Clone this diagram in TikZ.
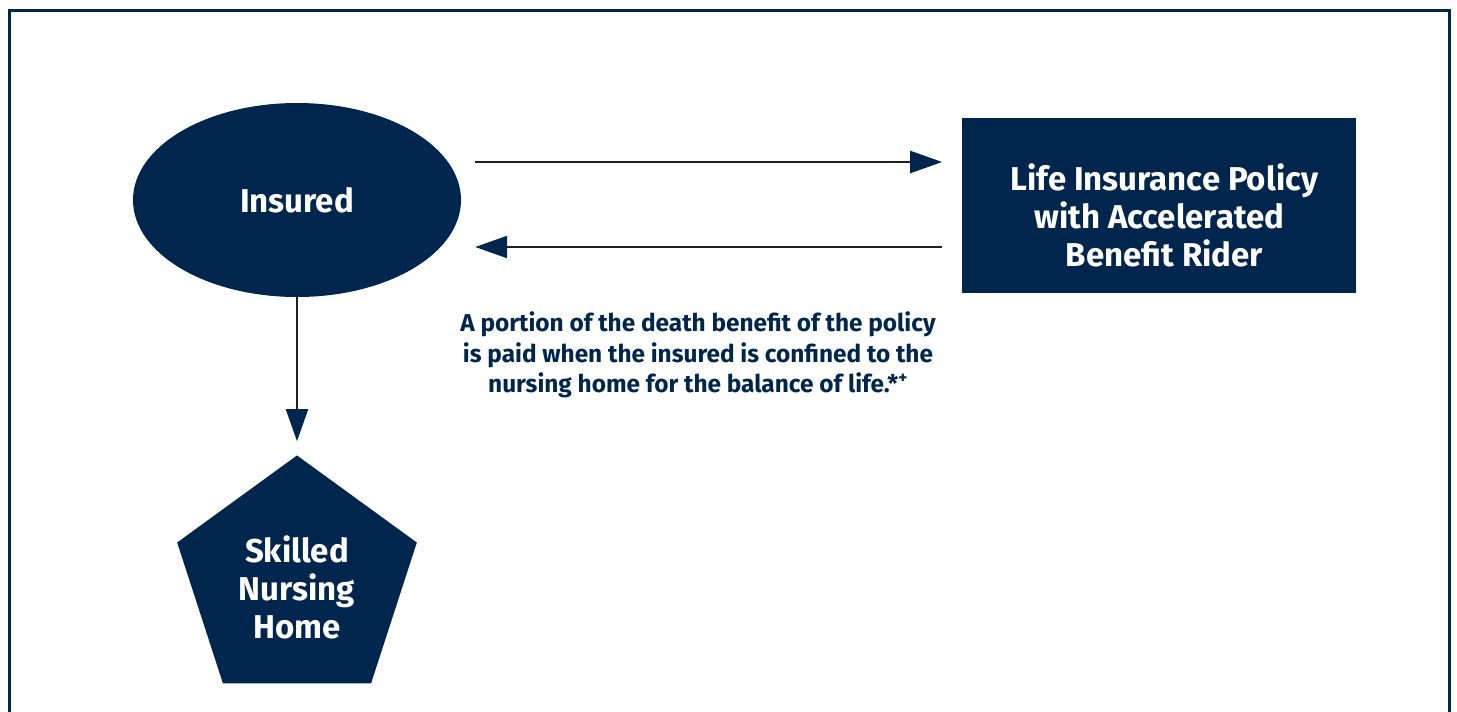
\documentclass[tikz,border=0pt]{standalone}
\usepackage{fontspec}
\setmainfont{Fira Sans}
\usepackage{tikz}
\usetikzlibrary{positioning, arrows.meta, calc, shapes.geometric}
\definecolor{navy}{RGB}{0,38,77}
\definecolor{inkline}{RGB}{35,31,32}
\tikzset{
  party/.style={
    fill=navy, draw=none, text=white, inner sep=0pt,
    font=\fontsize{33}{38}\selectfont\bfseries, align=center
  },
  flow/.style={draw=inkline, line width=2.2pt,
    -{Triangle[length=32pt, width=22pt, color=navy]}},
  note/.style={text=navy, align=center, font=\fontsize{24.4}{30.5}\selectfont\bfseries},
}

\begin{document}
\begin{tikzpicture}[x=1pt, y=-1pt, node distance=150pt]
  \useasboundingbox (0,0) rectangle (1457,712);
  \draw[navy, line width=3pt] (9,714) -- (9,10) -- (1449,10) -- (1449,714);

  \node[party, ellipse, minimum width=328pt, minimum height=194pt] (insured) at (297,200) {Insured};
  \node[party, rectangle, minimum width=394pt, minimum height=175pt,
        right=501pt of insured, yshift=-5.5pt] (policy) {\\[8pt]\hspace*{10pt}Life Insurance Policy\\with Accelerated\\\hspace*{10pt}Benefit Rider};
  \node[party, regular polygon, regular polygon sides=5, minimum size=252pt,
        below=158pt of insured] (snf) {\\[0pt]Skilled\\Nursing\\Home};
  \node[note] (benefit) at (698,355) {A portion of the death benefit of the policy\\is paid when the insured is confined to the\\nursing home for the balance of life.*\textsuperscript{+}};

  \coordinate (topin) at ($(insured.east)+(14,-38)$);
  \coordinate (botin) at ($(insured.east)+(14,47)$);
  \draw[flow, shorten >=20pt] (topin) -- (topin -| policy.west);
  \draw[flow, shorten <=20pt] (botin -| policy.west) -- (botin);
  \draw[flow, shorten >=14pt] (insured.south) -- (snf.north);
\end{tikzpicture}
\end{document}
